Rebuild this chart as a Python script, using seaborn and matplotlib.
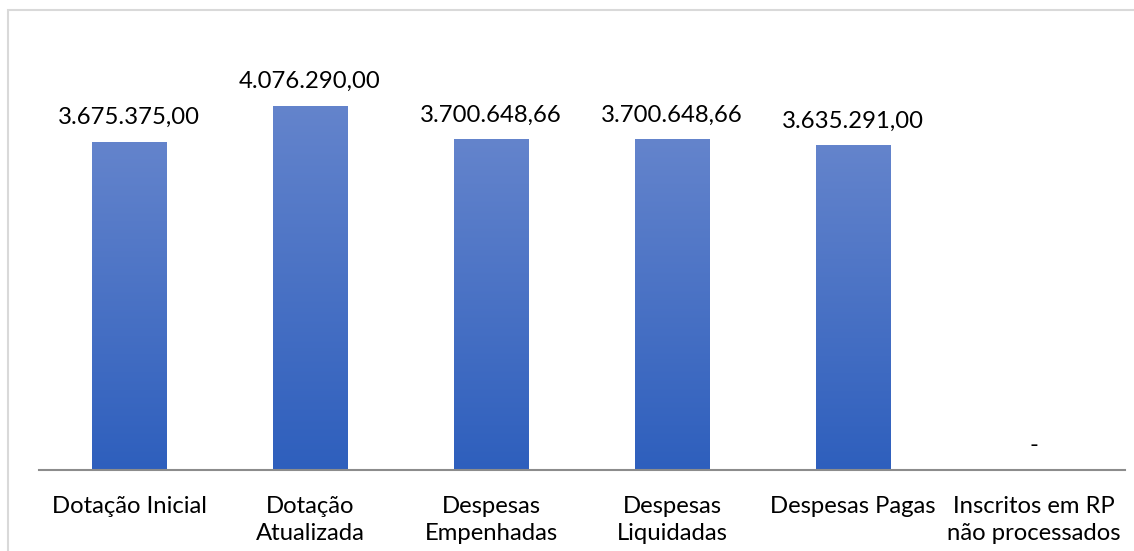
import numpy as np
import pandas as pd
import matplotlib
matplotlib.use("Agg")
import matplotlib.pyplot as plt
import seaborn as sns
from matplotlib.colors import LinearSegmentedColormap
from matplotlib.patches import Rectangle

categories = ["Dotação Inicial", "Dotação\nAtualizada", "Despesas\nEmpenhadas",
              "Despesas\nLiquidadas", "Despesas Pagas", "Inscritos em RP\nnão processados"]
values = [3675375.00, 4076290.00, 3700648.66, 3700648.66, 3635291.00, 0.0]
value_labels = ["3.675.375,00", "4.076.290,00", "3.700.648,66", "3.700.648,66",
                "3.635.291,00", "-"]

sns.set_theme(style="white")
plt.rcParams['font.family'] = ['Lato', 'DejaVu Sans']

W, H = 1134, 551
fig = plt.figure(figsize=(W / 100, H / 100), dpi=100)
ax = fig.add_axes([38.5 / W, (H - 470) / H, 1086 / W, 402 / H])

df = pd.DataFrame({"cat": categories, "val": values})
sns.barplot(data=df, x="cat", y="val", ax=ax, width=0.41, color="#4472C4",
            saturation=1, edgecolor="none")

cmap = LinearSegmentedColormap.from_list("g", ["#2e5fbd", "#6484cc"])
grad = np.linspace(0, 1, 256).reshape(-1, 1)
for p in ax.patches:
    x0, y0 = p.get_x(), p.get_y()
    w, h = p.get_width(), p.get_height()
    if h <= 0:
        continue
    p.set_facecolor("none")
    im = ax.imshow(grad, cmap=cmap, origin="lower", aspect="auto",
                   extent=[x0, x0 + w, y0, y0 + h], zorder=2)
    im.set_clip_path(p)
ax.set_xlim(-0.5, len(categories) - 0.5)
ax.set_ylim(0, 4.5e6)

for i, (v, lab) in enumerate(zip(values, value_labels)):
    ax.annotate(lab, (i, v), xytext=(0, 10), textcoords="offset points",
                ha="center", va="bottom", fontsize=17.2, color="#000000")

ax.set_xlabel("")
ax.set_ylabel("")
ax.set_yticks([])
ax.tick_params(axis="x", length=0, pad=19, labelsize=17.2, colors="#000000")
for lbl in ax.get_xticklabels():
    lbl.set_linespacing(1.35)
for s in ["top", "right", "left"]:
    ax.spines[s].set_visible(False)
ax.spines["bottom"].set_color("#8c8c8c")
ax.spines["bottom"].set_linewidth(1.5)

fig.patches.append(Rectangle((8 / W, -0.1), 2.0, (H - 10) / H + 0.1,
                             transform=fig.transFigure, fill=False,
                             edgecolor="#d9d9d9", linewidth=1.5))

fig.savefig("out.png", dpi=100)
